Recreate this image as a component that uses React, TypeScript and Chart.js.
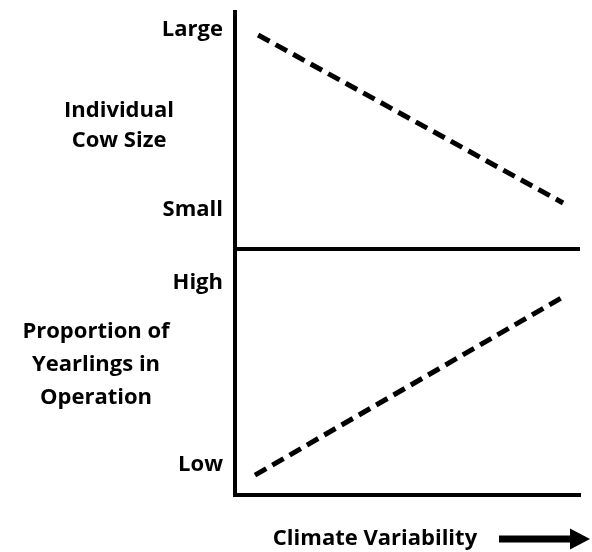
import { useEffect, useRef } from 'react';
import { Chart, registerables } from 'chart.js';

Chart.register(...registerables);

// Top panel: Individual cow size vs climate variability
const cowSizeX = [0.067, 0.951];
const cowSizeY = [0.903, 0.194];
// Bottom panel: proportion of yearlings vs climate variability
const yearlingsX = [0.058, 0.951];
const yearlingsY = [0.081, 0.805];

const topTickValues = [0.165, 0.924];
const topTickLabels = ['Small', 'Large'];
const bottomTickValues = [0.122, 0.862];
const bottomTickLabels = ['Low', 'High'];

const topTitle = ['Individual', 'Cow Size'];
const bottomTitle = ['Proportion of', 'Yearlings in', 'Operation'];
const xTitle = 'Climate Variability';

const FONT_FAMILY = '"Open Sans", "DejaVu Sans", sans-serif';
const FONT = { family: FONT_FAMILY, size: 22, weight: 'bold' as const };

const annotationPlugin = {
  id: 'panelTitles',
  afterDraw(chart: any) {
    const { ctx, chartArea, scales } = chart;
    const yTop = scales.yTop;
    const yBottom = scales.yBottom;
    ctx.save();
    ctx.fillStyle = '#000';
    ctx.font = `bold 22px ${FONT_FAMILY}`;
    ctx.textAlign = 'center';
    ctx.textBaseline = 'middle';

    // Top panel title
    const topCenter = yTop.getPixelForValue(0.52);
    const topLH = 30;
    const topX = chartArea.left - 116;
    topTitle.forEach((line, i) => {
      ctx.fillText(line, topX, topCenter + (i - (topTitle.length - 1) / 2) * topLH);
    });

    // Bottom panel title
    const botCenter = yBottom.getPixelForValue(0.53);
    const botLH = 33;
    const botX = chartArea.left - 139;
    bottomTitle.forEach((line, i) => {
      ctx.fillText(line, botX, botCenter + (i - (bottomTitle.length - 1) / 2) * botLH);
    });

    // X title and arrow
    const xy = chartArea.bottom + 44;
    const xc = chartArea.left + 140;
    ctx.fillText(xTitle, xc, xy);
    const ax0 = chartArea.left + 264;
    const ax1 = chartArea.left + 335;
    const ah = chartArea.left + 355;
    ctx.fillRect(ax0, xy - 3.5, ax1 - ax0 + 1, 7);
    ctx.beginPath();
    ctx.moveTo(ax1, xy - 10.5);
    ctx.lineTo(ah, xy);
    ctx.lineTo(ax1, xy + 10.5);
    ctx.closePath();
    ctx.fill();
    ctx.restore();
  },
};

function yScale(tickValues: number[], tickLabels: string[], weight: number, drawZeroLine: boolean) {
  return {
    type: 'linear' as const,
    position: 'left' as const,
    stack: 'panels',
    stackWeight: weight,
    min: 0,
    max: 1,
    border: { display: true, width: 4, color: '#000' },
    grid: {
      drawTicks: false,
      lineWidth: 4,
      color: (c: any) =>
        drawZeroLine && c.tick && c.tick.value === 0 ? '#000' : 'rgba(0,0,0,0)',
    },
    ticks: {
      padding: 12,
      color: '#000',
      font: FONT,
      callback: (v: any) => {
        const i = tickValues.indexOf(v);
        return i >= 0 ? tickLabels[i] : '';
      },
    },
    afterBuildTicks: (s: any) => {
      s.ticks = [0, ...tickValues].map((v) => ({ value: v }));
    },
    afterFit: (s: any) => {
      s.width = 235;
      s.paddingTop = 0;
      s.paddingBottom = 0;
      s.paddingLeft = 0;
      s.paddingRight = 0;
    },
  };
}

export default function App() {
  const ref = useRef<HTMLCanvasElement>(null);
  useEffect(() => {
    document.body.style.margin = '0';
    const canvas = ref.current!;
    const chart = new Chart(canvas, {
      type: 'line',
      data: {
        datasets: [
          {
            label: 'Individual Cow Size',
            data: cowSizeX.map((x, i) => ({ x, y: cowSizeY[i] })),
            yAxisID: 'yTop',
            borderColor: '#000',
            borderWidth: 5,
            borderDash: [13, 7],
            borderCapStyle: 'butt',
            pointRadius: 0,
            fill: false,
          },
          {
            label: 'Proportion of Yearlings in Operation',
            data: yearlingsX.map((x, i) => ({ x, y: yearlingsY[i] })),
            yAxisID: 'yBottom',
            borderColor: '#000',
            borderWidth: 5,
            borderDash: [13, 7],
            borderCapStyle: 'butt',
            pointRadius: 0,
            fill: false,
          },
        ],
      },
      options: {
        responsive: false,
        animation: false,
        layout: { padding: { top: 12, right: 12, left: 0, bottom: 0 } },
        plugins: { legend: { display: false }, tooltip: { enabled: false } },
        scales: {
          x: {
            type: 'linear',
            min: 0,
            max: 1,
            position: 'bottom',
            grid: { display: false, drawTicks: false },
            border: { display: true, width: 4, color: '#000' },
            ticks: { display: false },
            afterFit: (s: any) => {
              s.height = 57;
              s.paddingTop = 0;
              s.paddingBottom = 0;
              s.paddingLeft = 0;
              s.paddingRight = 0;
            },
          },
          // In a vertical stack the scale defined last is placed on top
          yBottom: yScale(bottomTickValues, bottomTickLabels, 246, false),
          yTop: yScale(topTickValues, topTickLabels, 237, true),
        } as any,
      },
      plugins: [annotationPlugin],
    });
    return () => chart.destroy();
  }, []);
  return (
    <div style={{ position: 'absolute', left: 0, top: 0, width: 592, height: 552, background: '#fff' }}>
      <canvas ref={ref} width={592} height={552} style={{ width: 592, height: 552 }} />
    </div>
  );
}
